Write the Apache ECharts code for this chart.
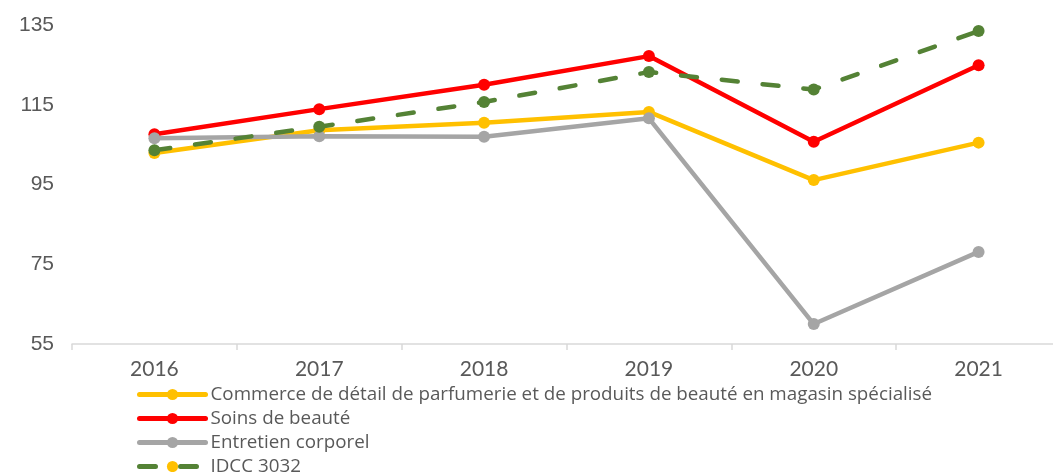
<!DOCTYPE html>
<html>
<head>
<meta charset="utf-8">
<script src="https://cdn.jsdelivr.net/npm/echarts@6/dist/echarts.min.js"></script>
<style>
html, body { margin: 0; padding: 0; background: #fff; }
#chart { width: 1053px; height: 472px; }
</style>
</head>
<body>
<div id="chart"></div>
<script>
"use strict";

/* data */
var years = ['2016', '2017', '2018', '2019', '2020', '2021'];
var commerce = [102.9, 108.6, 110.5, 113.2, 96.1, 105.5];
var soins = [107.6, 113.9, 120.0, 127.2, 105.7, 124.9];
var entretien = [106.6, 107.1, 107.0, 111.6, 60.0, 78.1];
var idcc = [103.6, 109.5, 115.7, 123.2, 118.8, 133.5];
var seriesNames = [
	'Commerce de détail de parfumerie et de produits de beauté en magasin spécialisé',
	'Soins de beauté',
	'Entretien corporel',
	'IDCC 3032'
];
var yTicks = [55, 135, 20]; // min, max, step

var chart = echarts.init(document.getElementById('chart'));

function lineSeries(name, data, color, dashed) {
	return {
		name: name,
		type: 'line',
		data: data,
		symbol: 'circle',
		symbolSize: 12,
		itemStyle: { color: color },
		lineStyle: { color: color, width: 4.5, type: dashed ? [16, 25] : 'solid', cap: 'round' },
		emphasis: { disabled: true }
	};
}

/* one legend per row so the stack never wraps */
function legendRow(i) {
	var item = { name: seriesNames[i] };
	if (i === 3) item.itemStyle = { color: '#FFC000' };
	return {
		orient: 'vertical',
		left: 137,
		top: 385 + i * 24,
		padding: 0,
		itemWidth: 66,
		itemHeight: 14,
		lineStyle: { width: 5 },
		textStyle: { color: '#595959', fontSize: 18.8, lineHeight: 16, fontFamily: 'Open Sans' },
		data: [item]
	};
}

var option = {
	animation: false,
	grid: { left: 72, width: 989, top: 25, bottom: 128, outerBoundsMode: 'none' },
	legend: [legendRow(0), legendRow(1), legendRow(2), legendRow(3)],
	xAxis: {
		type: 'category',
		data: years,
		axisLine: { lineStyle: { color: '#D9D9D9', width: 1.5 } },
		axisTick: { show: true, length: 6, lineStyle: { color: '#D9D9D9', width: 1.5 } },
		axisLabel: { color: '#595959', fontSize: 21, fontFamily: 'Lato', margin: 15 }
	},
	yAxis: {
		type: 'value',
		min: yTicks[0],
		max: yTicks[1],
		interval: yTicks[2],
		axisLine: { show: false },
		axisTick: { show: false },
		splitLine: { show: false },
		axisLabel: { color: '#595959', fontSize: 21, fontFamily: 'Liberation Sans', margin: 18 }
	},
	series: [
		lineSeries(seriesNames[0], commerce, '#FFC000', false),
		lineSeries(seriesNames[1], soins, '#FF0000', false),
		lineSeries(seriesNames[2], entretien, '#A5A5A5', false),
		lineSeries(seriesNames[3], idcc, '#548235', true)
	]
};

chart.setOption(option);
</script>
</body>
</html>
